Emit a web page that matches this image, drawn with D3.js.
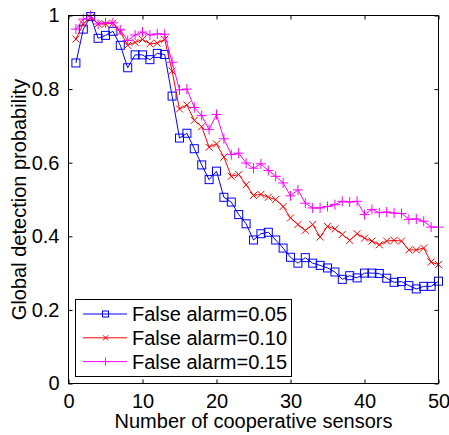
<!DOCTYPE html>
<html>
<head>
<meta charset="utf-8">
<script src="https://cdn.jsdelivr.net/npm/d3@7"></script>
<style>
  body { margin: 0; background: #fff; }
  svg { display: block; font-family: "Liberation Sans", Arial, sans-serif; }
</style>
</head>
<body>
<svg id="chart"></svg>
<script>
const width = 449;
const height = 435;

// number of cooperative sensors
const sensors = [1, 2, 3, 4, 5, 6, 7, 8, 9, 10, 11, 12, 13, 14, 15, 16, 17, 18, 19, 20,
  21, 22, 23, 24, 25, 26, 27, 28, 29, 30, 31, 32, 33, 34, 35, 36, 37, 38, 39, 40,
  41, 42, 43, 44, 45, 46, 47, 48, 49, 50];

// global detection probability, false alarm = 0.05
const pd005 = [0.871, 0.963, 0.997, 0.938, 0.946, 0.957, 0.919, 0.858, 0.893, 0.893,
  0.880, 0.897, 0.894, 0.781, 0.667, 0.680, 0.638, 0.594, 0.554, 0.577,
  0.506, 0.493, 0.459, 0.434, 0.390, 0.407, 0.411, 0.390, 0.368, 0.343,
  0.327, 0.342, 0.327, 0.321, 0.314, 0.303, 0.283, 0.293, 0.287, 0.300,
  0.300, 0.299, 0.286, 0.275, 0.277, 0.266, 0.257, 0.264, 0.264, 0.278];

// false alarm = 0.10
const pd010 = [0.936, 0.977, 0.995, 0.977, 0.977, 0.979, 0.955, 0.919, 0.927, 0.935,
  0.923, 0.925, 0.935, 0.849, 0.746, 0.757, 0.715, 0.698, 0.642, 0.651,
  0.615, 0.563, 0.568, 0.540, 0.511, 0.514, 0.506, 0.500, 0.481, 0.450,
  0.432, 0.416, 0.432, 0.398, 0.427, 0.420, 0.405, 0.389, 0.407, 0.395,
  0.387, 0.377, 0.387, 0.389, 0.387, 0.363, 0.363, 0.368, 0.330, 0.323];

// false alarm = 0.15
const pd015 = [0.963, 0.990, 1.000, 0.977, 0.980, 0.980, 0.961, 0.932, 0.947, 0.955,
  0.947, 0.950, 0.949, 0.873, 0.798, 0.800, 0.750, 0.728, 0.690, 0.731,
  0.665, 0.622, 0.626, 0.599, 0.585, 0.597, 0.579, 0.563, 0.545, 0.510,
  0.526, 0.490, 0.477, 0.477, 0.481, 0.486, 0.495, 0.493, 0.495, 0.459,
  0.473, 0.464, 0.466, 0.463, 0.462, 0.446, 0.447, 0.441, 0.425, 0.425];

const seriesNames = ["False alarm=0.05", "False alarm=0.10", "False alarm=0.15"];
const xTicks = [0, 10, 20, 30, 40, 50];
const yTicks = [0, 0.2, 0.4, 0.6, 0.8, 1];

const series = [
  {name: seriesNames[0], values: pd005, color: "#0000ff", marker: "square"},
  {name: seriesNames[1], values: pd010, color: "#ff0000", marker: "cross"},
  {name: seriesNames[2], values: pd015, color: "#ff00ff", marker: "plus"}
];

const margin = {top: 15.5, right: 10.5, bottom: 51.5, left: 68.5};

const x = d3.scaleLinear([0, 50], [margin.left, width - margin.right]);
const y = d3.scaleLinear([0, 1], [height - margin.bottom, margin.top]);

const svg = d3.select("#chart")
  .attr("width", width)
  .attr("height", height)
  .attr("viewBox", [0, 0, width, height]);

// marker shapes
function drawMarker(g, type, color, s) {
  if (type === "square") {
    g.append("rect")
      .attr("x", -s / 2).attr("y", -s / 2)
      .attr("width", s).attr("height", s)
      .attr("fill", "none").attr("stroke", color).attr("stroke-width", 1);
  } else if (type === "cross") {
    g.append("path")
      .attr("d", `M${-s / 2},${-s / 2}L${s / 2},${s / 2}M${-s / 2},${s / 2}L${s / 2},${-s / 2}`)
      .attr("stroke", color).attr("stroke-width", 1).attr("fill", "none");
  } else {
    g.append("path")
      .attr("d", `M${-s / 2},0L${s / 2},0M0,${-s / 2}L0,${s / 2}`)
      .attr("stroke", color).attr("stroke-width", 1).attr("fill", "none");
  }
}

const markerSize = {square: 8, cross: 7, plus: 10};

// lines + markers
const line = d3.line()
  .x((d, i) => x(sensors[i]))
  .y(d => y(d));

series.forEach(s => {
  svg.append("path")
    .attr("d", line(s.values))
    .attr("fill", "none")
    .attr("stroke", s.color)
    .attr("stroke-width", 1);

  svg.append("g")
    .selectAll("g")
    .data(s.values)
    .join("g")
    .attr("transform", (d, i) => `translate(${x(sensors[i])},${y(d)})`)
    .each(function() { drawMarker(d3.select(this), s.marker, s.color, markerSize[s.marker]); });
});

// axes (ticks inside, mirrored on top/right)
const x0 = x(0), x1 = x(50), y0 = y(0), y1 = y(1);
const tickLen = 4;

svg.append("rect")
  .attr("x", x0).attr("y", y1)
  .attr("width", x1 - x0).attr("height", y0 - y1)
  .attr("fill", "none").attr("stroke", "#000").attr("stroke-width", 1);

const axisB = svg.append("g").attr("transform", `translate(0,${y0})`)
  .call(d3.axisBottom(x).tickValues(xTicks).tickSizeInner(-tickLen).tickSizeOuter(0).tickPadding(10));
const axisT = svg.append("g").attr("transform", `translate(0,${y1})`)
  .call(d3.axisTop(x).tickValues(xTicks).tickSizeInner(-tickLen).tickSizeOuter(0).tickFormat(""));
const axisL = svg.append("g").attr("transform", `translate(${x0},0)`)
  .call(d3.axisLeft(y).tickValues(yTicks).tickSizeInner(-tickLen).tickSizeOuter(0).tickPadding(9).tickFormat(d3.format("~g")));
const axisR = svg.append("g").attr("transform", `translate(${x1},0)`)
  .call(d3.axisRight(y).tickValues(yTicks).tickSizeInner(-tickLen).tickSizeOuter(0).tickFormat(""));

[axisB, axisT, axisL, axisR].forEach(a => {
  a.select(".domain").remove();
  a.selectAll("line").attr("stroke", "#000");
  a.selectAll("text").attr("fill", "#000").style("font-size", "20px")
    .style("font-family", "'Liberation Sans', Arial, sans-serif");
});

// axis titles
svg.append("text")
  .attr("x", (x0 + x1) / 2)
  .attr("y", 428)
  .attr("text-anchor", "middle")
  .style("font-size", "20px")
  .text("Number of cooperative sensors");

svg.append("text")
  .attr("transform", `translate(26,${(y0 + y1) / 2}) rotate(-90)`)
  .attr("text-anchor", "middle")
  .style("font-size", "20px")
  .text("Global detection probability");

// legend
const legend = svg.append("g");
legend.append("rect")
  .attr("x", 75.5).attr("y", 299.5)
  .attr("width", 216).attr("height", 77)
  .attr("fill", "#fff").attr("stroke", "#000").attr("stroke-width", 1);

const rows = legend.selectAll("g.row")
  .data(series)
  .join("g")
  .attr("class", "row")
  .attr("transform", (d, i) => `translate(0,${314 + i * 23.8})`);

rows.append("line")
  .attr("x1", 83).attr("x2", 127)
  .attr("stroke", d => d.color).attr("stroke-width", 1);

rows.each(function(d) {
  const g = d3.select(this).append("g").attr("transform", "translate(105.5,0)");
  drawMarker(g, d.marker, d.color, d.marker === "square" ? 6 : d.marker === "cross" ? 5 : 8);
});

rows.append("text")
  .attr("x", 132)
  .attr("dy", "0.35em")
  .style("font-size", "20px")
  .text(d => d.name);
</script>
</body>
</html>
